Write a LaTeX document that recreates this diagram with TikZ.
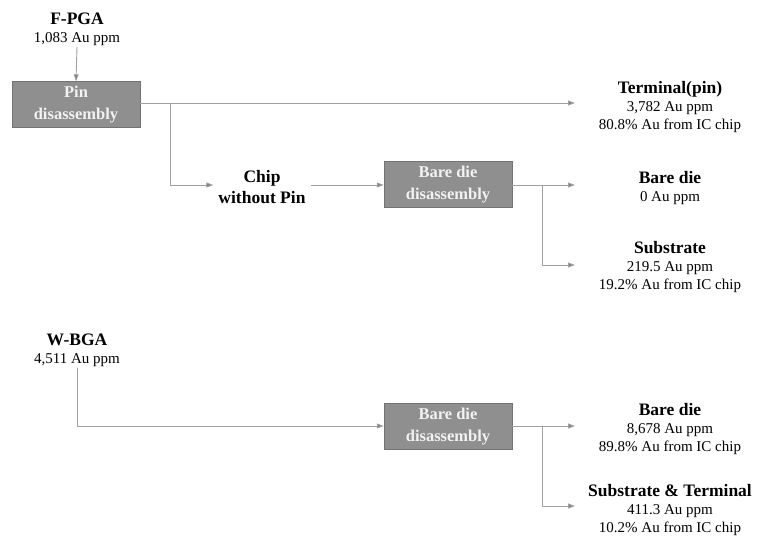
\documentclass[tikz,border=0pt]{standalone}
\usepackage{fontspec}
\setmainfont{Liberation Serif}
\usetikzlibrary{arrows.meta,positioning}

\definecolor{boxgray}{RGB}{143,143,143}
\definecolor{boxedge}{RGB}{115,115,115}
\definecolor{linegray}{RGB}{160,160,160}

\begin{document}
\begin{tikzpicture}[x=1pt,y=-1pt]
	\tikzset{
		stage/.style={draw=boxedge,fill=boxgray,text=white!95!black,minimum width=128pt,minimum height=46pt,
			align=center,inner sep=2pt,font=\fontsize{16.5}{21.5}\selectfont\bfseries},
		result/.style={align=center,inner sep=1pt,font=\fontsize{15}{18}\selectfont},
		feed/.style={align=center,inner sep=1pt,font=\fontsize{17.5}{21}\selectfont\bfseries},
		flow/.style={draw=linegray,line width=0.9pt,-{Triangle[length=7pt,width=5pt,fill=gray]}},
		link/.style={draw=linegray,line width=0.9pt}
	}
	\newcommand{\hd}[1]{{\fontsize{17.5}{18}\selectfont\bfseries #1}}
	\useasboundingbox (0,0) rectangle (757,537);

	%% F-PGA route
	\node[result] (fpga) at (77,29) {\hd{F-PGA}\\1,083 Au ppm};
	\node[stage] (pin) at (76,104.5) {Pin\\disassembly};
	\node[feed] (chip) at (262,187) {Chip\\without Pin};
	\node[stage] (bare1) at (448,184.5) {Bare die\\disassembly};
	\node[result] (term) at (670,107) {\hd{Terminal(pin)}\\3,782 Au ppm\\80.8\% Au from IC chip};
	\node[result] (die1) at (670,188) {\hd{Bare die}\\0 Au ppm};
	\node[result] (subs1) at (670,267) {\hd{Substrate}\\219.5 Au ppm\\19.2\% Au from IC chip};

	\coordinate (a1) at (575,103);
	\coordinate (a2) at (575,185);
	\coordinate (a3) at (575,265);
	\coordinate (s1) at (170,103);
	\coordinate (s2) at (542,185);

	\path[flow] (fpga.south) -- (pin.north);
	\path[flow] (pin.east |- a1) -- (a1);
	\path[flow] (s1) |- ([xshift=-4pt]chip.west |- a2);
	\path[flow] ([xshift=4pt]chip.east |- a2) -- (bare1.west |- a2);
	\path[flow] (bare1.east |- a2) -- (a2);
	\path[flow] (s2) |- (a3);

	%% W-BGA route
	\node[result] (wbga) at (77,350) {\hd{W-BGA}\\4,511 Au ppm};
	\node[stage] (bare2) at (448,426.5) {Bare die\\disassembly};
	\node[result] (die2) at (670,429) {\hd{Bare die}\\8,678 Au ppm\\89.8\% Au from IC chip};
	\node[result] (subs2) at (670,510) {\hd{Substrate \& Terminal}\\411.3 Au ppm\\10.2\% Au from IC chip};

	\coordinate (b1) at (575,426);
	\coordinate (b2) at (575,506);
	\coordinate (s3) at (542,426);

	\path[flow] (wbga.south) |- (bare2.west |- b1);
	\path[flow] (bare2.east |- b1) -- (b1);
	\path[flow] (s3) |- (b2);
\end{tikzpicture}
\end{document}
